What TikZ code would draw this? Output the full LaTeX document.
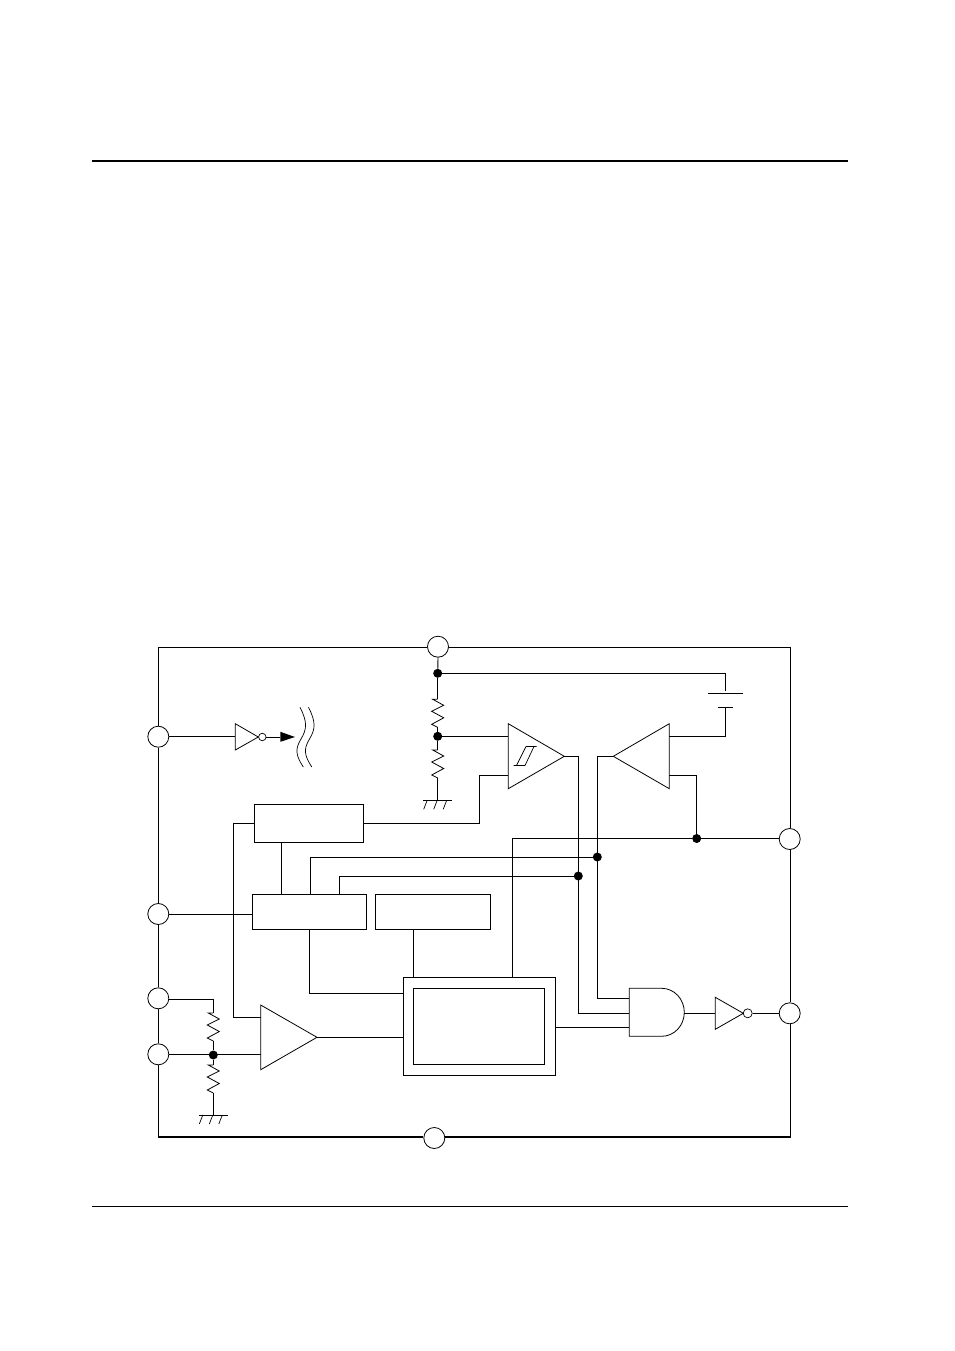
\documentclass[tikz,border=0pt]{standalone}
\usetikzlibrary{calc}

\tikzset{
  wire/.style={line width=0.9pt},
  pin/.style={circle, draw, fill=white, line width=0.8pt, minimum size=21pt, inner sep=0pt},
  dot/.style={circle, fill=black, minimum size=9pt, inner sep=0pt},
  bubble/.style={circle, draw, line width=0.7pt, minimum size=9pt, inner sep=0pt},
  blockbox/.style={rectangle, draw, line width=1pt, inner sep=0pt},
  gate/.style={line width=0.8pt, line join=miter},
  resistor/.pic={\draw[line width=0.8pt] (0,0) -- (-5,0) -- (6,6) -- (-6,12) -- (6,18.5) -- (-6,25) -- (0,28);},
  groundbar/.pic={
    \draw[line width=1pt] (-14.5,0) -- (14.5,0);
    \draw[line width=0.7pt] (-10.5,0) -- (-14,9) (-0.5,0) -- (-4,9) (9,0) -- (5.5,9);}
}

\begin{document}
\begin{tikzpicture}[x=1pt, y=-1pt]
\useasboundingbox (0,0) rectangle (954,1351);

% Page rules
\coordinate (ruletl) at (91.5,161);
\coordinate (ruletr) at (848,161);
\coordinate (rulebl) at (91.5,1206);
\coordinate (rulebr) at (848,1206);
\draw[line width=2pt] (ruletl) -- (ruletr);
\draw[line width=1pt] (rulebl) -- (rulebr);

% Pins
\node[pin] (pinvcc) at (438,646.7) {};
\node[pin] (pinled) at (158.3,736.7) {};
\node[pin] (pinctl) at (158.3,914) {};
\node[pin] (pinref) at (158.3,998.3) {};
\node[pin] (pinsen) at (158.3,1054.3) {};
\node[pin] (pingnd) at (434.3,1138) {};
\node[pin] (pinfb) at (789.7,839) {};
\node[pin] (pinout) at (789.7,1013.3) {};

% Frame
\coordinate (frametl) at (158.3,647.3);
\coordinate (frametr) at (790.7,647.3);
\coordinate (framebl) at (158.3,1137);
\coordinate (framebr) at (790.7,1137);
\draw[wire] (frametl -| pinvcc.west) -- (frametl) -- (pinled.north);
\draw[wire] (frametl -| pinvcc.east) -- (frametr) -- (frametr |- pinfb.north);
\draw[wire] (pinled.south) -- (pinctl.north);
\draw[wire] (pinctl.south) -- (pinref.north);
\draw[wire] (pinref.south) -- (pinsen.north);
\draw[wire] (frametr |- pinfb.south) -- (frametr |- pinout.north);
\draw[wire] (pinsen.south) -- (framebl);
\draw[wire] (framebr |- pinout.south) -- (framebr);
\draw[line width=2pt] (framebl) -- (framebl -| pingnd.west);
\draw[line width=2pt] (framebl -| pingnd.east) -- (framebr);

% Blocks
\node[blockbox, minimum width=109pt, minimum height=38pt] (boxa) at (308.8,823.3) {};
\node[blockbox, minimum width=114.4pt, minimum height=35pt] (boxb) at (309.5,911.8) {};
\node[blockbox, minimum width=115.4pt, minimum height=35pt] (boxc) at (433,911.8) {};
\node[blockbox, minimum width=152.4pt, minimum height=98pt] (outer) at (479.5,1026.3) {};
\node[blockbox, minimum width=131.4pt, minimum height=76pt] (inner) at (479,1026.3) {};

% Junctions
\node[dot] (jtop) at (437.7,673.3) {};
\node[dot] (jmid) at (437.7,736.3) {};
\node[dot] (jsen) at (213.3,1055) {};
\node[dot] (jfb) at (696.7,838.5) {};
\node[dot] (jctla) at (597.3,857) {};
\node[dot] (jctlb) at (578.3,876) {};

% Top inverter and arrow
\coordinate (invatop) at (235.3,723.7);
\coordinate (invabot) at (235.3,750);
\coordinate (invatip) at (258.3,737);
\draw[gate] (invatop) -- (invatip) -- (invabot) -- cycle;
\node[bubble, minimum size=7.5pt] (invabub) at (262.3,737) {};
\draw[wire] (pinled.east) -- (pinled.east -| invatop);
\coordinate (arrowbase) at (280.3,737);
\coordinate (arrowtip) at (295,737);
\draw[wire] (invabub.east) -- (arrowbase);
\fill (arrowbase |- 0,731.8) -- (arrowtip) -- (arrowbase |- 0,741.8) -- cycle;
\draw[line width=0.7pt] (300,707.3) .. controls (307.5,722) and (307,729) .. (301,739) .. controls (295,749) and (295.5,755) .. (303.3,767);
\draw[line width=0.7pt] (308.5,707.3) .. controls (316,722) and (315.5,729) .. (309.5,739) .. controls (303.5,749) and (304,755) .. (311.8,767);

% Divider, Vcc side
\coordinate (ra) at (437.7,699.3);
\coordinate (rb) at (437.7,750);
\coordinate (gnda) at (437.7,800.3);
\draw[wire] (pinvcc.south) -- (jtop);
\draw[wire] (jtop) -- (ra);
\path (ra) pic {resistor};
\draw[wire] (jmid) -- ($(ra)+(0,28)$);
\draw[wire] (jmid) -- (rb);
\path (rb) pic {resistor};
\draw[wire] ($(rb)+(0,28)$) -- (gnda);
\path (gnda) pic {groundbar};

% Comparator
\coordinate (cmptop) at (508.3,723.7);
\coordinate (cmpbot) at (508.3,788.7);
\coordinate (cmptip) at (564.3,756.3);
\draw[gate] (cmptop) -- (cmptip) -- (cmpbot) -- cycle;
\draw[line width=0.7pt] (513.5,765.5) -- (525,765.5) (516.5,765.5) -- (526,746.5) (526,746.5) -- (536.5,746.5) (525,765.5) -- (534,746.5);
\draw[wire] (jmid) -- (jmid -| cmptop);
\coordinate (cmpin) at (508.3,775.3);
\draw[wire] (boxa.east) -| (479.3,775.3) -- (cmpin);

% Driver and battery
\coordinate (drvtop) at (669.3,723.7);
\coordinate (drvbot) at (669.3,788.7);
\coordinate (drvtip) at (613.3,756.3);
\draw[gate] (drvtop) -- (drvtip) -- (drvbot) -- cycle;
\coordinate (batcorner) at (725.7,691);
\coordinate (batlong) at (725.7,693.3);
\coordinate (batshort) at (725.7,707.3);
\draw[wire] (jtop) -| (batcorner);
\draw[line width=1pt] ($(batlong)+(-17.5,0)$) -- ($(batlong)+(17,0)$);
\draw[line width=1pt] ($(batshort)+(-7.5,0)$) -- ($(batshort)+(7.5,0)$);
\coordinate (drvina) at (669.3,736.3);
\coordinate (drvinb) at (669.3,775.3);
\draw[wire] (batshort) |- (drvina);
\draw[wire] (drvinb) -| (jfb);

% Feedback bus
\draw[wire] (jfb) -- (jfb -| pinfb.west);
\coordinate (fbdown) at (512.7,977.3);
\draw[wire] (jfb) -| (fbdown);

% AND gate
\coordinate (andtl) at (629.3,988.3);
\coordinate (andbl) at (629.3,1036.3);
\draw[gate] (661.7,1036.3) -- (andbl) -- (andtl) -- (661.7,988.3) arc[start angle=-90, end angle=90, x radius=22.6pt, y radius=-24pt];
\coordinate (andout) at (684.3,1013.3);
\coordinate (andina) at (629.3,998.3);
\coordinate (andinb) at (629.3,1013.3);
\coordinate (andinc) at (629.3,1027);
\draw[wire] (drvtip) -| (597.3,998.3) -- (andina);
\draw[wire] (cmptip) -| (578.3,1013.3) -- (andinb);
\draw[wire] (outer.east |- andinc) -- (andinc);

% Output inverter
\coordinate (invbtop) at (715.3,997.3);
\coordinate (invbbot) at (715.3,1029.3);
\coordinate (invbtip) at (743.3,1013.3);
\draw[gate] (invbtop) -- (invbtip) -- (invbbot) -- cycle;
\node[bubble] (invbbub) at (747.7,1013.3) {};
\draw[wire] (andout) -- (andout -| invbtop);
\draw[wire] (invbbub.east) -- (pinout.west);

% Block wiring
\coordinate (ampin) at (260.7,1017.3);
\draw[wire] (boxa.west) -| (233.3,1017.3) -- (ampin);
\draw[wire] (boxa.south -| 281.3,0) -- (boxb.north -| 281.3,0);
\draw[wire] (boxb.north -| 310.3,0) |- (jctla);
\draw[wire] (boxb.north -| 339.3,0) |- (jctlb);
\draw[wire] (pinctl.east) -- (pinctl -| boxb.west);
\coordinate (boxbout) at (309.7,993.3);
\draw[wire] (boxb.south -| boxbout) -- (boxbout) -- (boxbout -| outer.west);
\draw[wire] (boxc.south -| 413.3,0) -- (outer.north -| 413.3,0);

% Sense amplifier
\coordinate (amptop) at (260.7,1005);
\coordinate (ampbot) at (260.7,1069.7);
\coordinate (amptip) at (317,1037.3);
\draw[gate] (amptop) -- (amptip) -- (ampbot) -- cycle;
\draw[wire] (amptip) -- (amptip -| outer.west);
\draw[wire] (pinsen.east) -- (pinsen -| amptop);

% Divider, sense side
\coordinate (rc) at (213.3,1013);
\coordinate (rd) at (213.3,1065);
\coordinate (gndb) at (213.3,1115);
\draw[wire] (pinref.east |- 0,999.3) -| (rc);
\path (rc) pic {resistor};
\draw[wire] (jsen) -- ($(rc)+(0,28)$);
\draw[wire] (jsen) -- (rd);
\path (rd) pic {resistor};
\draw[wire] ($(rd)+(0,28)$) -- (gndb);
\path (gndb) pic {groundbar};
\end{tikzpicture}
\end{document}
